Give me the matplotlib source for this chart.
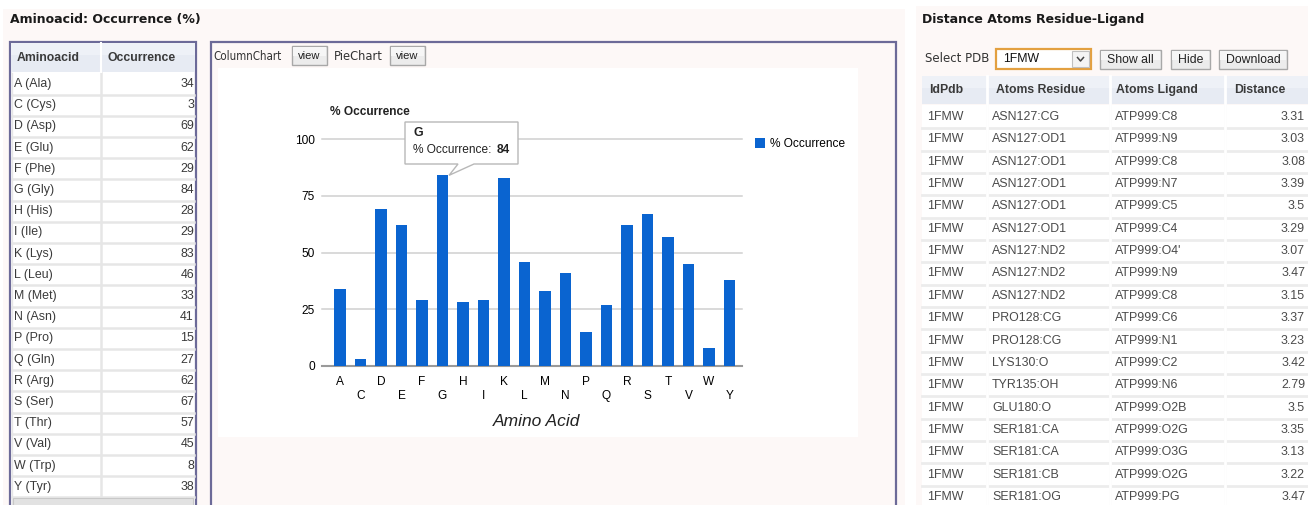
import matplotlib
matplotlib.use("Agg")
import matplotlib.pyplot as plt
from matplotlib.patches import Rectangle, Polygon

# ---------------- data ----------------
letters = ["A", "C", "D", "E", "F", "G", "H", "I", "K", "L",
           "M", "N", "P", "Q", "R", "S", "T", "V", "W", "Y"]
names = ["Ala", "Cys", "Asp", "Glu", "Phe", "Gly", "His", "Ile", "Lys", "Leu",
         "Met", "Asn", "Pro", "Gln", "Arg", "Ser", "Thr", "Val", "Trp", "Tyr"]
occurrence = [34, 3, 69, 62, 29, 84, 28, 29, 83, 46,
              33, 41, 15, 27, 62, 67, 57, 45, 8, 38]
y_ticks = [0, 25, 50, 75, 100]

pdb_ids = ["1FMW"] * 18
atoms_residue = ["ASN127:CG", "ASN127:OD1", "ASN127:OD1", "ASN127:OD1", "ASN127:OD1",
                 "ASN127:OD1", "ASN127:ND2", "ASN127:ND2", "ASN127:ND2", "PRO128:CG",
                 "PRO128:CG", "LYS130:O", "TYR135:OH", "GLU180:O", "SER181:CA",
                 "SER181:CA", "SER181:CB", "SER181:OG"]
atoms_ligand = ["ATP999:C8", "ATP999:N9", "ATP999:C8", "ATP999:N7", "ATP999:C5",
                "ATP999:C4", "ATP999:O4'", "ATP999:N9", "ATP999:C8", "ATP999:C6",
                "ATP999:N1", "ATP999:C2", "ATP999:N6", "ATP999:O2B", "ATP999:O2G",
                "ATP999:O3G", "ATP999:O2G", "ATP999:PG"]
distances = ["3.31", "3.03", "3.08", "3.39", "3.5", "3.29", "3.07", "3.47", "3.15",
             "3.37", "3.23", "3.42", "2.79", "3.5", "3.35", "3.13", "3.22", "3.47"]

# ---------------- figure ----------------
W, H = 1308, 505
fig = plt.figure(figsize=(W / 100, H / 100), dpi=100)
fig.patch.set_facecolor("white")

bg = fig.add_axes([0, 0, 1, 1])
bg.set_xlim(0, W)
bg.set_ylim(H, 0)
bg.axis("off")
bg.set_zorder(0)

SANS = "Liberation Sans"
TITLE = "DejaVu Sans"
PINK = "#fdf8f7"
BORDER = "#6c6a98"
HEADER = "#e7ebf3"
CELL_LINE = "#e6e6e6"
TXT = "#3a3a3a"


def rect(x0, y0, x1, y1, fc="none", ec="none", lw=1.0, z=1):
    bg.add_patch(Rectangle((x0, y0), x1 - x0, y1 - y0, facecolor=fc,
                           edgecolor=ec, linewidth=lw, zorder=z))


def button(x0, y0, x1, y1, label, family=SANS, size=8.5):
    rect(x0, y0, x1, y1, fc="#ececec", ec="#a8a8a8", lw=1.0, z=3)
    rect(x0 + 1, y0 + 1, x1 - 1, (y0 + y1) / 2, fc="#f6f6f6", z=3)
    bg.text((x0 + x1) / 2, (y0 + y1) / 2 + 0.5, label, ha="center", va="center",
            fontsize=size, family=family, color="#222222", zorder=4)


# page backgrounds
rect(3, 9, 905, H, fc=PINK, z=0)
rect(916, 6, W, H, fc=PINK, z=0)

# ---------------- left: amino acid table ----------------
bg.text(10, 19, "Aminoacid: Occurrence (%)", fontsize=9, family=TITLE,
        fontweight="bold", color="#1a1a1a", va="center", ha="left")

rect(10, 42, 196, H + 5, fc="white", ec=BORDER, lw=1.6, z=1)
rect(11, 43, 195, 72, fc=HEADER, z=2)
rect(11, 43, 195, 55, fc="#eef1f7", z=2)
bg.plot([101, 101], [43, 72], color="white", lw=1.5, zorder=3)
bg.text(17, 58, "Aminoacid", fontsize=8.8, family=SANS, fontweight="bold",
        color=TXT, va="center")
bg.text(108, 58, "Occurrence", fontsize=8.8, family=SANS, fontweight="bold",
        color=TXT, va="center")

row_h = 21.2
for i, (l, n, v) in enumerate(zip(letters, names, occurrence)):
    yc = 84 + row_h * i
    bg.plot([12, 194], [yc + row_h / 2, yc + row_h / 2], color=CELL_LINE, lw=1.8, zorder=2)
    bg.text(14, yc, f"{l} ({n})", fontsize=8.9, family=SANS, color=TXT, va="center")
    bg.text(194, yc, str(v), fontsize=8.9, family=SANS, color=TXT, va="center", ha="right")
bg.plot([101, 101], [73, H], color=CELL_LINE, lw=1.8, zorder=2)
bg.plot([12, 12], [73, H], color=CELL_LINE, lw=1.0, zorder=2)
rect(13, 498, 193, H + 2, fc="#e2e2e2", ec="#c8c8c8", lw=0.8, z=3)

# ---------------- middle: chart panel ----------------
rect(211, 42, 896, H + 5, fc=PINK, ec=BORDER, lw=1.6, z=1)
bg.text(213, 56, "ColumnChart", fontsize=8.3, family="DejaVu Sans", color="#333333",
        va="center", stretch="condensed")
button(292, 46, 327, 65, "view", size=8)
bg.text(334, 56, "PieChart", fontsize=8.3, family="DejaVu Sans", color="#333333",
        va="center")
button(390, 46, 425, 65, "view", size=8)
rect(218, 68, 858, 437, fc="white", z=1)

# chart axes: x=322..742 px, y(0)=366 px, y(100)=139 px
ax = fig.add_axes([322 / W, (H - 366) / H, (742 - 322) / W, (366 - 139) / H])
ax.set_zorder(2)
ax.patch.set_alpha(0)
xs = list(range(len(letters)))
ax.bar(xs, occurrence, width=0.58, color="#0a64d0", label="% Occurrence", zorder=3)
ax.set_xlim((322 - 340) / 20.5, (742 - 340) / 20.5)
ax.set_ylim(0, 100)
ax.set_yticks(y_ticks)
ax.set_yticklabels([str(t) for t in y_ticks], fontsize=8.6, family=SANS)
ax.set_xticks(xs)
ax.set_xticklabels([l if i % 2 == 0 else "\n" + l for i, l in enumerate(letters)],
                   fontsize=8.6, family=SANS, linespacing=1.25)
ax.tick_params(axis="both", length=0)
ax.tick_params(axis="y", pad=5)
ax.tick_params(axis="x", pad=7)
for s in ["top", "right", "left"]:
    ax.spines[s].set_visible(False)
ax.spines["bottom"].set_color("#9a9a9a")
ax.spines["bottom"].set_linewidth(1.5)
for t in y_ticks[1:]:
    ax.axhline(t, color="#d0d0d0", lw=1.1, zorder=1, clip_on=False)

leg = ax.legend(loc="center left", bbox_to_anchor=(749 / W, (H - 144) / H),
                bbox_transform=fig.transFigure, frameon=False,
                prop={"family": SANS, "size": 8.6}, handlelength=0.85,
                handleheight=0.85, handletextpad=0.45, borderpad=0)

bg.text(330, 112, "% Occurrence", fontsize=8.6, family=SANS, fontweight="bold",
        color="#222222", va="center")
bg.text(537, 422, "Amino Acid", fontsize=12.5, family=SANS, style="italic",
        color="#222222", va="center", ha="center")

# tooltip (data coords of chart axes)
px = lambda x: (x - 340) / 20.5
py = lambda y: (366 - y) / 2.27
g_idx = letters.index("G")
tip = [(px(405), py(164)), (px(458), py(164)), (g_idx + 0.32, occurrence[g_idx]),
       (px(474), py(164)), (px(518), py(164)), (px(518), py(122)), (px(405), py(122))]
ax.add_patch(Polygon(tip, closed=True, facecolor="white", edgecolor="#b8b8b8",
                     lw=1.0, zorder=5, clip_on=False))
ax.text(413, 133, "G", fontsize=8.9, family=SANS, fontweight="bold", color="#222222",
        va="center", zorder=6, transform=bg.transData, clip_on=False)
ax.text(413, 150, "% Occurrence: ", fontsize=8.6, family=SANS, color="#222222",
        va="center", zorder=6, transform=bg.transData, clip_on=False)
ax.text(497, 150, str(occurrence[g_idx]), fontsize=8.6, family=SANS,
        fontweight="bold", color="#222222", va="center", zorder=6,
        transform=bg.transData, clip_on=False)

# ---------------- right: distance table ----------------
bg.text(922, 20, "Distance Atoms Residue-Ligand", fontsize=9, family=TITLE,
        fontweight="bold", color="#1a1a1a", va="center")
bg.text(925, 59, "Select PDB", fontsize=8.5, family="DejaVu Sans", color="#333333",
        va="center")
rect(996, 49, 1091, 69, fc="white", ec="#e3a040", lw=1.6, z=3)
bg.text(1003, 59.5, "1FMW", fontsize=8.8, family=SANS, color="#111111", va="center", zorder=4)
rect(1072, 51, 1089, 67, fc="#f4f4f4", ec="#c0c0c0", lw=0.8, z=4)
bg.plot([1077.5, 1080.5, 1083.5], [57.5, 61, 57.5], color="#444444", lw=1.1, zorder=5)
button(1100, 50, 1161, 69, "Show all", size=8.8)
button(1171, 50, 1210, 69, "Hide", size=8.8)
button(1219, 50, 1287, 69, "Download", size=8.8)

cols = [922, 987, 1110, 1225, W]
rect(922, 76, W, 104, fc=HEADER, z=2)
rect(922, 76, W, 88, fc="#eef1f7", z=2)
for c in cols[1:-1]:
    bg.plot([c, c], [76, H], color="white", lw=2.0, zorder=3)
headers = ["IdPdb", "Atoms Residue", "Atoms Ligand", "Distance"]
hx = [929, 996, 1116, 1234]
for h, x in zip(headers, hx):
    bg.text(x, 90, h, fontsize=8.8, family=SANS, fontweight="bold", color=TXT, va="center")

rh = 22.35
rect(922, 105, W, H + 5, fc="white", z=1)
for i in range(len(pdb_ids)):
    yc = 117 + rh * i
    bg.plot([922, W], [yc + rh / 2, yc + rh / 2], color="#ececec", lw=2.0, zorder=2)
    bg.text(927, yc, pdb_ids[i], fontsize=8.9, family=SANS, color="#4a4a4a", va="center")
    bg.text(992, yc, atoms_residue[i], fontsize=8.9, family=SANS, color="#4a4a4a", va="center")
    bg.text(1115, yc, atoms_ligand[i], fontsize=8.9, family=SANS, color="#4a4a4a", va="center")
    bg.text(1305, yc, distances[i], fontsize=8.9, family=SANS, color="#4a4a4a",
            va="center", ha="right")
for c in cols[1:-1]:
    bg.plot([c, c], [105, H], color="#ececec", lw=2.0, zorder=2)

fig.savefig("out.png", dpi=100, facecolor=fig.get_facecolor())
